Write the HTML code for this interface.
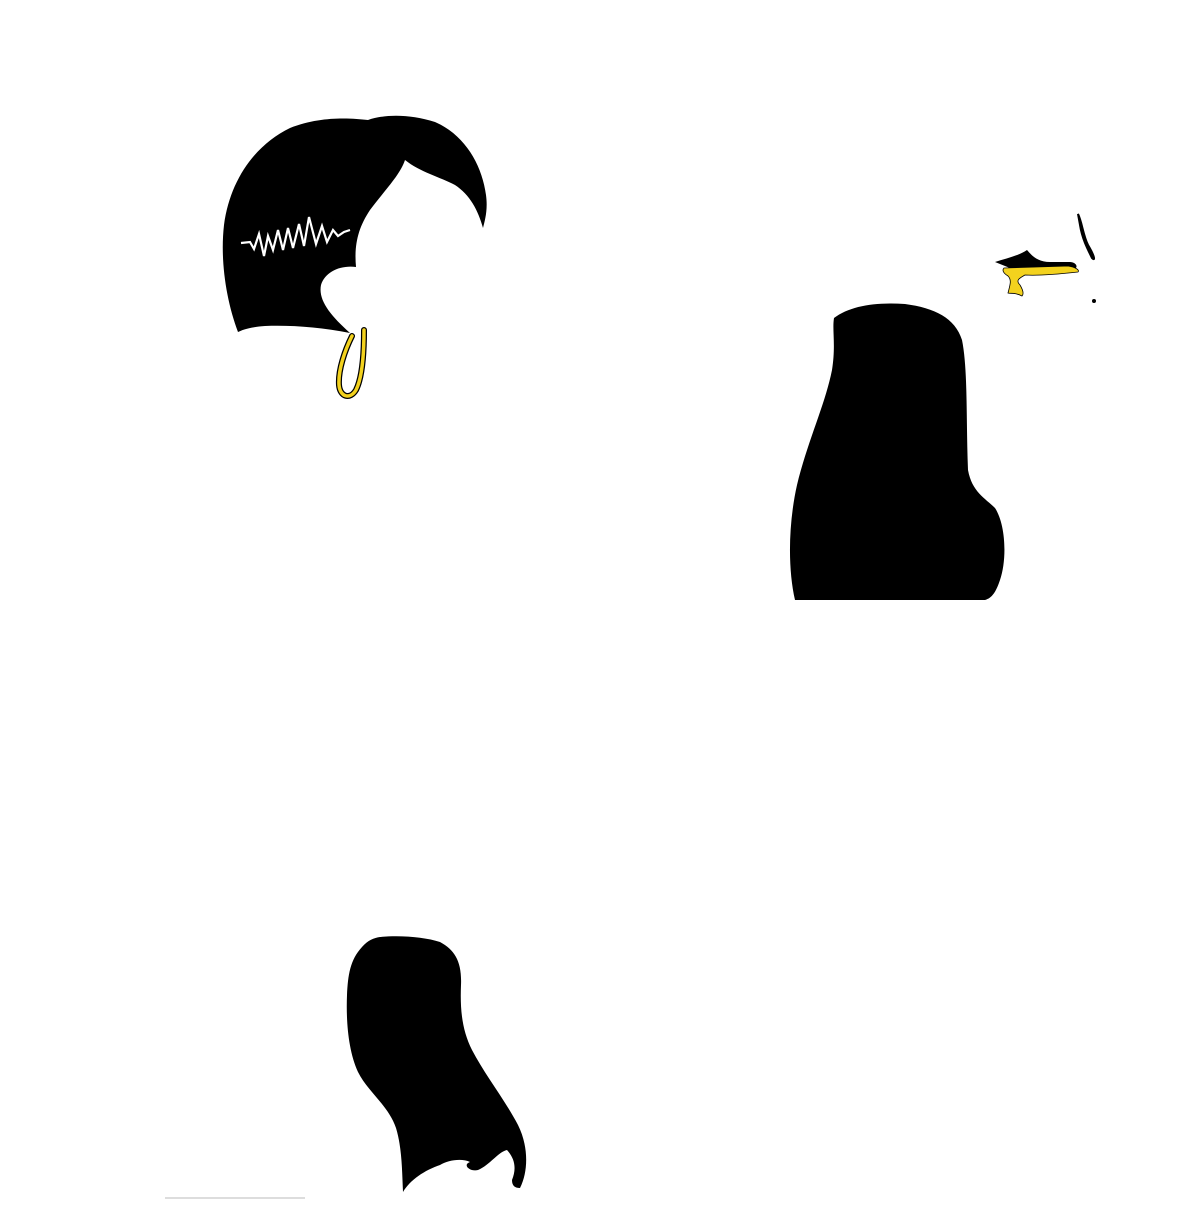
<!DOCTYPE html>
<html><head><style>html,body{margin:0;padding:0;background:#fff}</style></head>
<body>
<svg width="1200" height="1200" viewBox="0 0 1200 1200" xmlns="http://www.w3.org/2000/svg">
<rect width="1200" height="1200" fill="#fff"/>
<path d="M238,332 C226,300 220,260 224,225 C230,180 255,145 290,128 C320,116 350,118 368,120 C385,114 410,114 435,122 C465,135 482,165 486,195 C488,210 485,220 483,228 C478,210 470,195 455,185 C440,177 420,172 405,160 C400,175 385,190 370,210 C358,228 354,245 356,267 C340,265 325,272 321,285 C318,300 330,315 350,333 C320,327 290,325 265,326 C250,327 242,330 238,332 Z" fill="#000"/>
<polyline points="241,243 250,242 254,249 259,234 264,256 268,236 273,250 278,230 283,250 288,228 293,248 299,224 304,246 309,217 316,244 322,226 327,242 333,230 338,236 344,232 350,230" fill="none" stroke="#fff" stroke-width="2.2" stroke-linejoin="miter"/>
<path d="M352,336 C345,350 338,370 339,385 C340,397 350,400 356,390 C362,378 364,355 364,330" fill="none" stroke="#000" stroke-width="6" stroke-linecap="round"/>
<path d="M352,336 C345,350 338,370 339,385 C340,397 350,400 356,390 C362,378 364,355 364,330" fill="none" stroke="#f3d21e" stroke-width="3.5" stroke-linecap="round"/>
<path d="M834,318 C850,306 875,302 905,304 C935,308 955,318 962,340 C968,370 966,420 968,470 C972,492 985,498 995,508 C1006,525 1007,560 1000,580 C996,592 992,598 985,600 L795,600 C788,570 788,525 797,485 C808,440 825,405 832,370 C836,345 832,330 834,318 Z" fill="#000"/>
<path d="M380,937 C400,935 425,937 440,942 C455,950 462,962 461,985 C460,1010 462,1030 472,1050 C485,1075 505,1100 518,1125 C528,1145 529,1170 520,1188 C515,1188 512,1186 512,1180 C516,1170 516,1160 507,1150 C498,1152 490,1165 478,1170 C470,1172 462,1165 470,1162 C462,1158 448,1160 440,1165 C425,1170 410,1180 403,1192 C402,1170 402,1148 396,1128 C388,1105 368,1092 358,1072 C348,1050 346,1020 347,995 C348,975 350,960 362,947 C368,940 374,938 380,937 Z" fill="#000"/>
<path d="M1078,214 C1082,222 1083,235 1088,245 C1094,255 1096,262 1092,258 C1087,248 1082,238 1080,225 Z" fill="#000" stroke="#000" stroke-width="2"/>
<path d="M995,262 C1008,258 1020,255 1027,250 C1032,256 1038,262 1050,262 L1070,262 C1074,262 1078,265 1076,268 L1010,268 Z" fill="#000"/>
<path d="M1004,268 L1068,266 C1075,267 1080,270 1078,272 C1060,274 1040,276 1025,275 C1020,278 1015,280 1020,285 C1023,290 1024,294 1022,296 C1015,292 1010,294 1008,293 C1010,285 1012,280 1008,276 C1003,273 1002,270 1004,268 Z" fill="#f3d21e" stroke="#000" stroke-width="0.8"/>
<circle cx="1094" cy="301" r="2" fill="#000"/>
<line x1="165" y1="1198" x2="305" y2="1198" stroke="#bbb" stroke-width="1"/>
</svg>
</body></html>
